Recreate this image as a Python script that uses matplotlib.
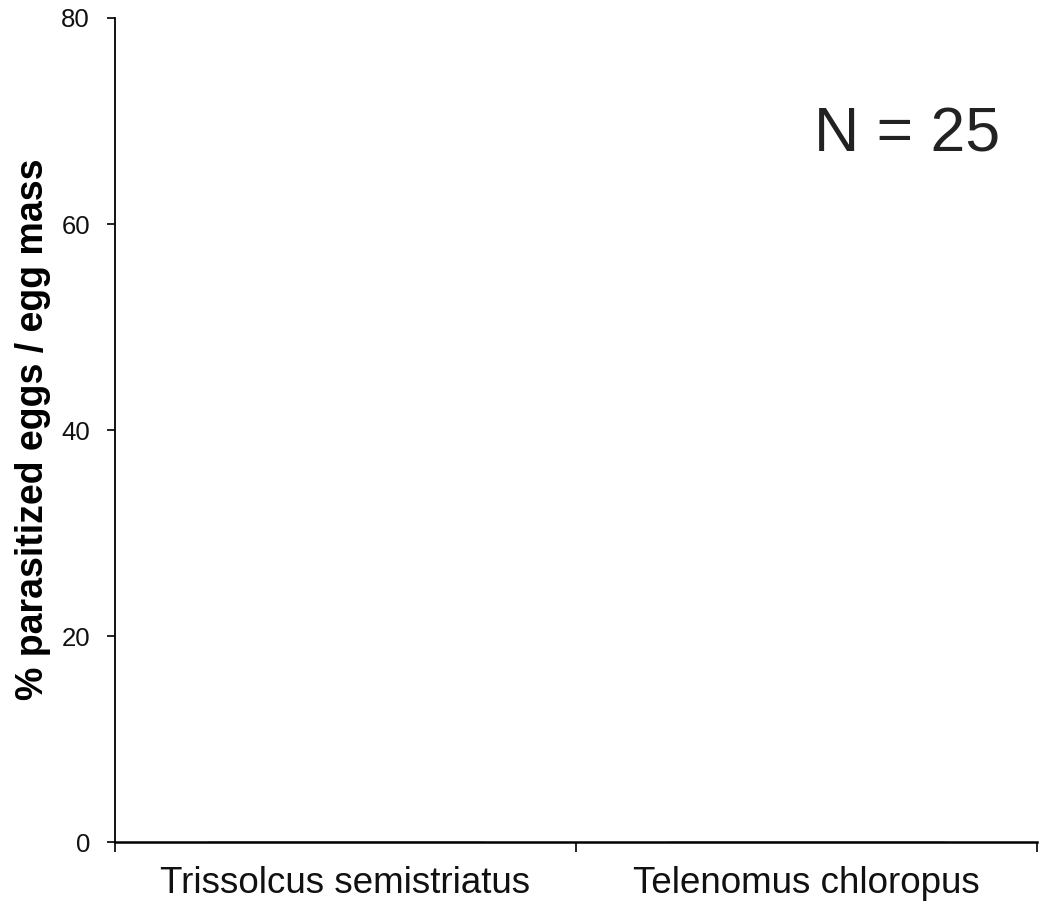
import matplotlib
matplotlib.use("Agg")
import matplotlib.pyplot as plt

categories = ["Trissolcus semistriatus", "Telenomus chloropus"]
values = [0, 0]
y_ticks = [0, 20, 40, 60, 80]
annotation = "N = 25"

plt.rcParams['font.family'] = ['Liberation Sans', 'DejaVu Sans']

fig = plt.figure(figsize=(10.41, 9.05), dpi=100)
ax = fig.add_axes([115/1041, 63/905, (1037-115)/1041, (842-18)/905])

x = list(range(len(categories)))
ax.bar(x, values, width=0.6, color="#808080", edgecolor="black")

ax.set_xlim(-0.5, len(categories) - 0.5)
ax.set_ylim(0, 80)
ax.set_yticks(y_ticks)
ax.set_yticklabels([str(v) for v in y_ticks], fontsize=18.5, color="#111111")

ax.set_xticks([i - 0.5 for i in range(len(categories) + 1)])
ax.set_xticklabels([])
ax.set_xticks(x, minor=True)
ax.set_xticklabels(categories, minor=True, fontsize=26.5, color="#111111")
ax.tick_params(axis='x', which='minor', length=0, pad=17)
ax.tick_params(axis='x', which='major', direction='out', length=7, width=1.2)
ax.tick_params(axis='y', direction='out', length=6, width=1.2, pad=12)

for s in ['top', 'right']:
    ax.spines[s].set_visible(False)
ax.spines['left'].set_linewidth(1.3)
ax.spines['bottom'].set_linewidth(1.8)

ax.text((1000-115)/922, (842-151)/824, annotation, transform=ax.transAxes,
        ha='right', va='baseline', fontsize=45, color="#222222")

fig.text(33/1041, 1 - 429/905, "% parasitized eggs / egg mass", rotation=90,
         ha='center', va='center', fontsize=27, fontweight='bold')

fig.savefig("out.png", dpi=100)
